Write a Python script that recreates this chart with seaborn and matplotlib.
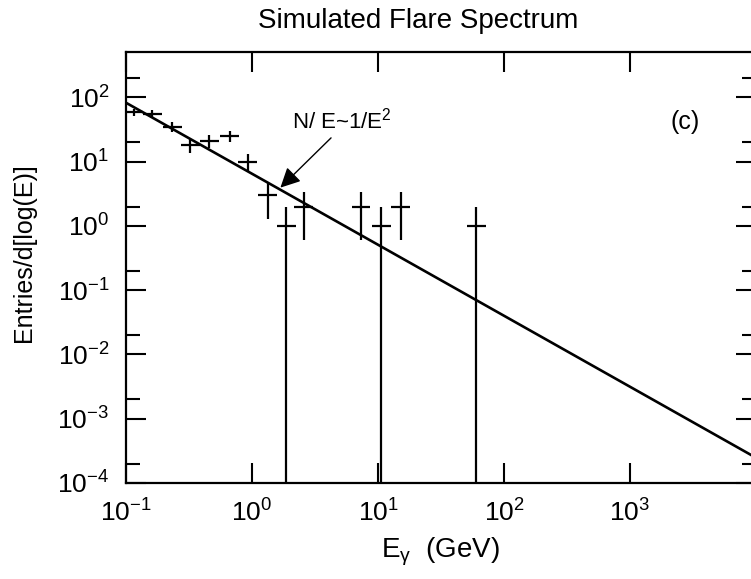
import numpy as np
import pandas as pd
import matplotlib
matplotlib.use("Agg")
import matplotlib.pyplot as plt
import seaborn as sns
from matplotlib.ticker import LogLocator, NullFormatter, NullLocator, LogFormatterSciNotation, FuncFormatter

# Binned photon energies (GeV) and entries per log-energy bin
energy = [0.115, 0.161, 0.232, 0.324, 0.458, 0.664, 0.922, 1.33, 1.87, 2.57, 7.33, 10.6, 15.1, 60.3]
entries = [59, 56, 35, 18, 21, 25, 10, 3, 1, 2, 2, 1, 2, 1]
entries_err = [7.7, 7.5, 5.9, 4.2, 4.6, 5.0, 3.2, 1.7, 1.0, 1.4, 1.4, 1.0, 1.4, 1.0]
bin_half_width_dex = 0.075

# Power-law reference line: entries = norm * E**index
line_norm = 6.5
line_index = -1.105

x_limits = (1e-1, 1e4)
y_limits = (1e-4, 5.1e2)

sns.set_theme(style="ticks")
plt.rcParams["font.family"] = ["Liberation Sans", "DejaVu Sans"]
plt.rcParams["mathtext.fontset"] = "custom"
plt.rcParams["mathtext.rm"] = "Liberation Sans"
plt.rcParams["mathtext.it"] = "Liberation Sans:italic"
plt.rcParams["mathtext.sf"] = "Liberation Sans"
plt.rcParams["mathtext.default"] = "regular"
plt.rcParams["text.color"] = "black"
plt.rcParams["axes.labelcolor"] = "black"

W, H = 751, 579
fig = plt.figure(figsize=(W / 100, H / 100), dpi=100)
ax = fig.add_axes([126 / W, (H - 483) / H, 630 / W, 431 / H])

e = np.asarray(energy, dtype=float)
n = np.asarray(entries, dtype=float)
err = np.asarray(entries_err, dtype=float)

# model line across the full energy range
e_grid = np.logspace(np.log10(x_limits[0]), np.log10(x_limits[1]), 200)
line_df = pd.DataFrame({"E": e_grid, "N": line_norm * e_grid ** line_index})
sns.lineplot(data=line_df, x="E", y="N", ax=ax, color="black", linewidth=1.9)

# data crosses: horizontal bar = bin width, vertical bar = statistical error
xerr = [e * (1 - 10 ** -bin_half_width_dex), e * (10 ** bin_half_width_dex - 1)]
ax.errorbar(e, n, xerr=xerr, yerr=[err, err], fmt="none", ecolor="black",
            elinewidth=1.6, capsize=0)

ax.set_xscale("log")
ax.set_yscale("log")
ax.set_xlim(*x_limits)
ax.set_ylim(*y_limits)

sci = LogFormatterSciNotation()


def x_label_fmt(v, pos):
    # the last decade sits on the clipped right edge and carries no label
    return "" if v >= x_limits[1] * 0.99 else sci(v, pos)


ax.xaxis.set_major_locator(LogLocator(base=10, numticks=20))
ax.xaxis.set_minor_locator(NullLocator())
ax.yaxis.set_major_locator(LogLocator(base=10, numticks=20))
ax.yaxis.set_minor_locator(LogLocator(base=10, subs=[2.0], numticks=20))
ax.yaxis.set_minor_formatter(NullFormatter())
ax.xaxis.set_major_formatter(FuncFormatter(x_label_fmt))
ax.yaxis.set_major_formatter(sci)

ax.tick_params(which="both", direction="in", top=True, right=True,
               width=1.5, colors="black", labelcolor="black", labelsize=19)
ax.tick_params(which="major", length=14.5, pad=12)
ax.tick_params(which="minor", length=10)
for s in ax.spines.values():
    s.set_linewidth(1.6)
    s.set_color("black")

ax.set_xlabel("")
ax.set_ylabel("")
fig.text((126 + 756) / 2 / W, 1 - 552 / H, r"E$_{\gamma}$  (GeV)", ha="center",
         va="center", fontsize=20, color="black")
fig.text(24 / W, 1 - 253 / H, "Entries/d[log(E)]", rotation=90, ha="center",
         va="center", fontsize=18, color="black")
fig.text(418 / W, 1 - 21 / H, "Simulated Flare Spectrum", ha="center",
         va="center", fontsize=20, color="black")

ax.text(0.887, 0.838, "(c)", transform=ax.transAxes, ha="center", va="center",
        fontsize=18, color="black")
ax.text(2.08, 43, r"N/ E~1/E$^{2}$", ha="left", va="center", fontsize=16,
        color="black")
ax.annotate("", xy=(1.68, 3.95), xytext=(4.24, 23.5),
            arrowprops=dict(arrowstyle="-|>,head_length=0.6,head_width=0.3",
                            color="black", lw=1.0,
                            mutation_scale=20, shrinkA=0, shrinkB=0))

fig.savefig("out.png", dpi=100)
